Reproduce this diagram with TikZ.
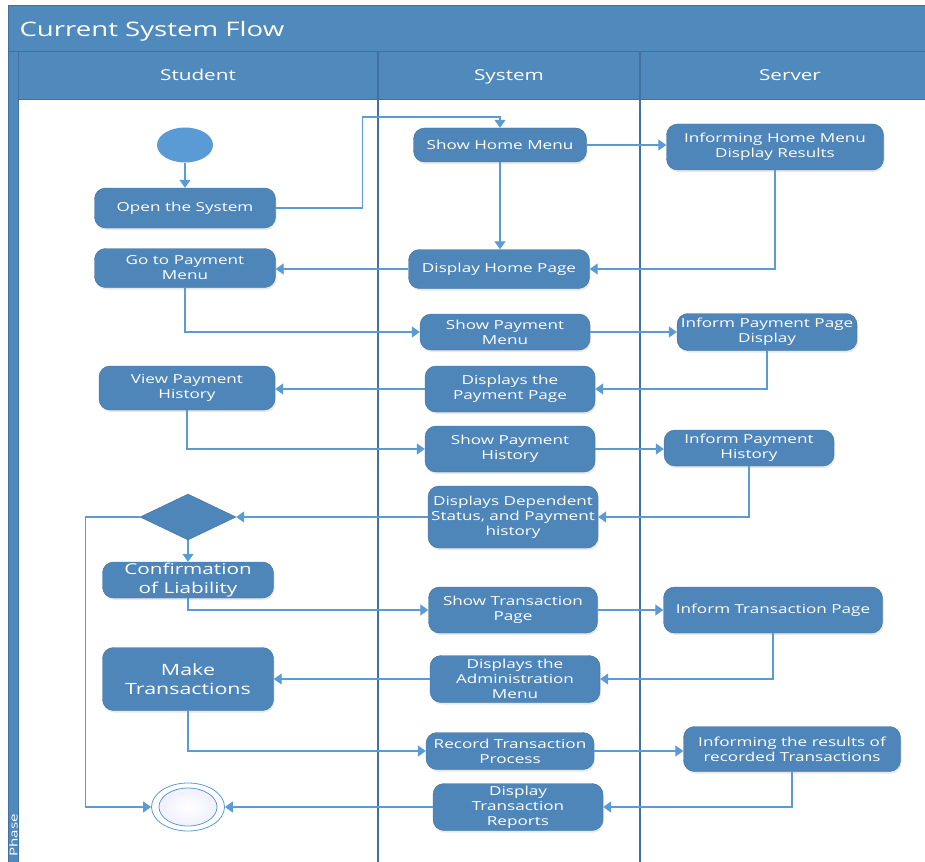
\documentclass[tikz,border=0pt]{standalone}
\usepackage{fontspec}
\setmainfont{Open Sans}
\newfontfamily\flowfont{Open Sans}[FakeStretch=1.38]
\usetikzlibrary{shapes.geometric,shadows,arrows.meta,calc}
\definecolor{laneblue}{RGB}{80,137,188}
\definecolor{edgeblue}{RGB}{65,113,156}
\definecolor{actblue}{RGB}{78,134,186}
\definecolor{flowblue}{RGB}{91,155,213}
\tikzset{
act/.style={rectangle, rounded corners=11pt, draw=edgeblue, fill=actblue, text=white,
  align=center, inner sep=1pt, font=\flowfont\fontsize{12.4}{15}\selectfont,
  drop shadow={shadow xshift=1pt, shadow yshift=-2pt, opacity=0.18}}, % activity box
bigact/.style={act, font=\flowfont\fontsize{15}{18.5}\selectfont},
box/.style 2 args={minimum width=#1pt, minimum height=#2pt},
flow/.style={draw=flowblue, line width=1.3pt, -{Triangle[length=8pt,width=11pt]}}, % control flow
lanehead/.style={text=white, text height=11pt, text depth=3pt, font=\flowfont\fontsize{15}{18}\selectfont},
}
\begin{document}
\begin{tikzpicture}[x=1pt,y=-1pt]
   \useasboundingbox (0,0) rectangle (925,861);
   \clip (0,0) rectangle (925,861);
   \fill[white] (0,0) rectangle (925,861);
   % swimlane frame
   \draw[fill=laneblue, draw=edgeblue, line width=1pt] (8,6) rectangle (940,52);
   \draw[fill=laneblue, draw=edgeblue, line width=1pt] (18,52) rectangle (940,100);
   \draw[fill=laneblue, draw=edgeblue, line width=1pt] (8,52) rectangle (18,870);
   \draw[edgeblue, line width=1.5pt] (378,52) -- (378,870);
   \draw[edgeblue, line width=1.5pt] (640,52) -- (640,870);
   \node[text=white, anchor=west, font=\flowfont\fontsize{20}{24}\selectfont] (title) at (16,31) {Current System Flow};
   \node[lanehead] (student) at (198,77) {Student};
   \node[lanehead] (system) at (509,77) {System};
   \node[lanehead] (server) at (790,77) {Server};
   \node[text=white, rotate=90, anchor=west, inner sep=0, font=\flowfont\fontsize{11}{13}\selectfont] (phase) at (13.5,857) {Phase};
   % student lane
   \node[ellipse, fill=flowblue, box={56}{35}, inner sep=0] (start) at (185,145) {};
   \node[act, box={181}{40}] (open) at (185,208) {Open the System};
   \node[act, box={181}{39}] (gopay) at (185,268) {Go to Payment\\Menu};
   \node[act, box={176}{44}] (viewhist) at (187,388) {View Payment\\History};
   \node[diamond, fill=actblue, draw=edgeblue, box={96}{46}, inner sep=0] (decision) at (188,517) {};
   \node[bigact, box={171}{36}] (confirm) at (188,580) {Confirmation\\of Liability};
   \node[bigact, box={171}{63}, font=\flowfont\fontsize{15.5}{19}\selectfont] (maketrans) at (188,679) {Make\\Transactions};
   \node[ellipse, draw=flowblue, line width=0.8pt, fill=white, box={73}{48}, inner sep=0] (stop) at (188,807) {};
   \node[ellipse, draw=flowblue, line width=0.8pt, inner color=white, outer color=blue!6, box={58}{38}, inner sep=0] (stopin) at (188,807) {};
   % system lane
   \node[act, box={173}{34}] (showhome) at (500,145) {Show Home Menu};
   \node[act, box={181}{39}] (disphome) at (499,269) {Display Home Page};
   \node[act, box={170}{36}] (showpay) at (505,332) {Show Payment\\Menu};
   \node[act, box={170}{46}] (disppay) at (510,389) {Displays the\\Payment Page};
   \node[act, box={170}{46}] (showhist) at (510,449) {Show Payment\\History};
   \node[act, box={170}{62}] (dispdep) at (513,517) {Displays Dependent\\Status, and Payment\\history};
   \node[act, box={169}{46}] (showtrans) at (513,610) {Show Transaction\\Page};
   \node[act, box={170}{47}] (dispadmin) at (515,679) {Displays the\\Administration\\Menu};
   \node[act, box={168}{37}] (recordtrans) at (510,751) {Record Transaction\\Process};
   \node[act, box={170}{47}] (dispreport) at (518,807) {Display\\Transaction\\Reports};
   % server lane
   \node[act, box={217}{46}] (infohome) at (775,147) {Informing Home Menu\\Display Results};
   \node[act, box={180}{37}] (infopay) at (767,332) {Inform Payment Page\\Display};
   \node[act, box={170}{36}] (infohist) at (749,448) {Inform Payment\\History};
   \node[act, box={219}{46}] (infotrans) at (773,610) {Inform Transaction Page};
   \node[act, box={217}{45}] (inforesult) at (792,749) {Informing the results of\\recorded Transactions};
   % flows
   \draw[flow] (start.south) -- (open.north);
   \draw[flow] (open.east) -| ++(87,-91) -| (showhome.north);
   \draw[flow] (showhome.east) -- (showhome.east -| infohome.west);
   \draw[flow] (showhome.south) -- (showhome.south |- disphome.north);
   \draw[flow] (infohome.south) |- (disphome.east);
   \draw[flow] (disphome.west) -- (disphome.west -| gopay.east);
   \draw[flow] (gopay.south) |- (showpay.west);
   \draw[flow] (showpay.east) -- (showpay.east -| infopay.west);
   \draw[flow] (infopay.south) |- (disppay.east);
   \draw[flow] (disppay.west) -- (disppay.west -| viewhist.east);
   \draw[flow] (viewhist.south) |- (showhist.west);
   \draw[flow] (showhist.east) -- (showhist.east -| infohist.west);
   \draw[flow] (infohist.south) |- (dispdep.east);
   \draw[flow] (dispdep.west) -- (decision.east);
   \draw[flow] (decision.west) -- ++(-54,0) |- (stop.west);
   \draw[flow] (decision.south) -- (confirm.north);
   \draw[flow] (confirm.south) |- (showtrans.west);
   \draw[flow] (showtrans.east) -- (showtrans.east -| infotrans.west);
   \draw[flow] (infotrans.south) |- (dispadmin.east);
   \draw[flow] (dispadmin.west) -- (dispadmin.west -| maketrans.east);
   \draw[flow] (maketrans.south) |- (recordtrans.west);
   \draw[flow] (recordtrans.east) -- (recordtrans.east -| inforesult.west);
   \draw[flow] (inforesult.south) |- (dispreport.east);
   \draw[flow] (dispreport.west) -- (stop.east);
\end{tikzpicture}
\end{document}
